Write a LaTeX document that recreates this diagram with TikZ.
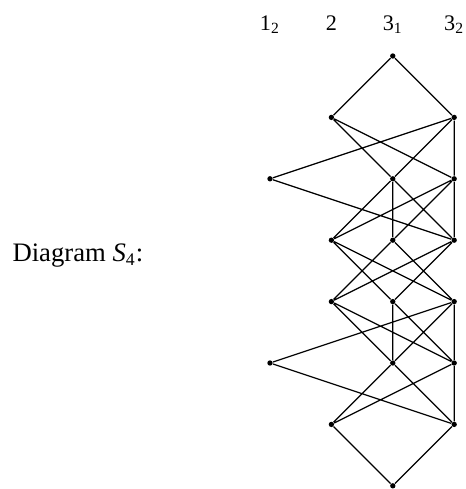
\documentclass[tikz,border=0pt]{standalone}
\usepackage{fontspec}
\setmainfont{Liberation Serif}
\usepackage{tikz}
\usetikzlibrary{positioning}

\tikzset{
  dot/.style={circle, fill, inner sep=0pt, minimum size=2.4pt},
  edge/.style={line width=0.55pt},
}

\begin{document}
\begin{tikzpicture}[x=27.63pt, y=27.63pt, every node/.style={font=\fontsize{10}{12}\selectfont}]
\useasboundingbox (-4.397,0.912) rectangle (3.192,-7.052);
% column labels
\node[anchor=base] (l0) at (0,0.423) {1\textsubscript{2}};
\node[anchor=base] (l1) at (1,0.423) {2};
\node[anchor=base] (l2) at (2,0.423) {3\textsubscript{1}};
\node[anchor=base] (l3) at (3,0.423) {3\textsubscript{2}};
\node[anchor=base west, inner sep=0pt, font=\fontsize{12}{14}\selectfont] (title) at (-4.20,-3.355) {Diagram \textit{S}\textsubscript{4}:};
% vertices, row by row
\node[dot] (v02) at (2,0) {};
\node[dot] (v11) at (1,-1) {};
\node[dot] (v13) at (3,-1) {};
\node[dot] (v20) at (0,-2) {};
\node[dot] (v22) at (2,-2) {};
\node[dot] (v23) at (3,-2) {};
\node[dot] (v31) at (1,-3) {};
\node[dot] (v32) at (2,-3) {};
\node[dot] (v33) at (3,-3) {};
\node[dot] (v41) at (1,-4) {};
\node[dot] (v42) at (2,-4) {};
\node[dot] (v43) at (3,-4) {};
\node[dot] (v50) at (0,-5) {};
\node[dot] (v52) at (2,-5) {};
\node[dot] (v53) at (3,-5) {};
\node[dot] (v61) at (1,-6) {};
\node[dot] (v63) at (3,-6) {};
\node[dot] (v72) at (2,-7) {};
% edges
\draw[edge] (v02) -- (v11) (v02) -- (v13);
\draw[edge] (v11) -- (v22) (v11) -- (v23) (v13) -- (v20) (v13) -- (v22) (v13) -- (v23);
\draw[edge] (v20) -- (v33) (v22) -- (v31) (v22) -- (v32) (v22) -- (v33)
  (v23) -- (v31) (v23) -- (v32) (v23) -- (v33);
\draw[edge] (v31) -- (v42) (v31) -- (v43) (v32) -- (v41) (v32) -- (v43)
  (v33) -- (v41) (v33) -- (v42);
\draw[edge] (v41) -- (v52) (v41) -- (v53) (v42) -- (v52) (v42) -- (v53)
  (v43) -- (v50) (v43) -- (v52) (v43) -- (v53);
\draw[edge] (v50) -- (v63) (v52) -- (v61) (v52) -- (v63) (v53) -- (v61) (v53) -- (v63);
\draw[edge] (v61) -- (v72) (v63) -- (v72);
\end{tikzpicture}
\end{document}
